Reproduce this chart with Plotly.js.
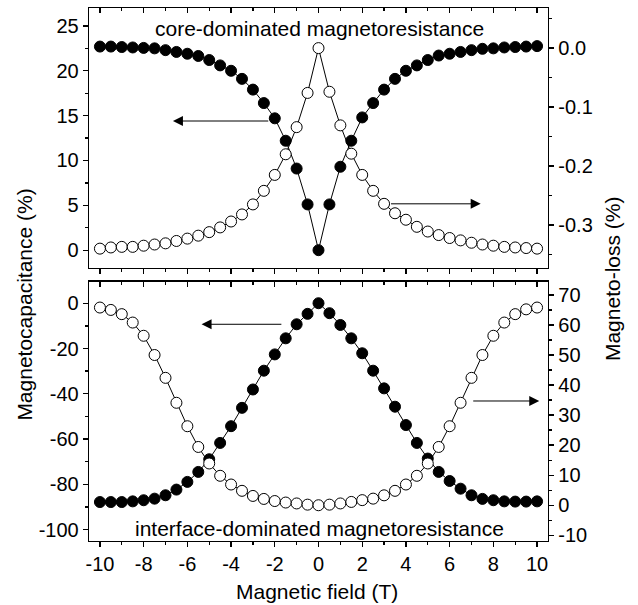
<!DOCTYPE html>
<html>
<head>
<meta charset="utf-8">
<script src="https://cdn.plot.ly/plotly-3.0.1.min.js"></script>
<style>html,body{margin:0;padding:0;background:#fff;}#chart{width:638px;height:605px;}</style>
</head>
<body>
<div id="chart"></div>
<script>
// Magnetic field (T)
const field = [-10,-9.5,-9,-8.5,-8,-7.5,-7,-6.5,-6,-5.5,-5,-4.5,-4,-3.5,-3,-2.5,-2,-1.5,-1,-0.5,0,
               0.5,1,1.5,2,2.5,3,3.5,4,4.5,5,5.5,6,6.5,7,7.5,8,8.5,9,9.5,10];

// Top panel: core-dominated magnetoresistance
const coreCapacitance = [22.7,22.7,22.65,22.6,22.55,22.5,22.3,22.1,21.9,21.65,21.2,20.6,20.0,19.1,17.9,16.4,14.7,12.2,9.1,5.1,0.0,
                         5.1,9.3,12.2,14.8,16.4,17.9,19.1,20.0,20.6,21.2,21.7,21.9,22.1,22.3,22.45,22.5,22.6,22.65,22.7,22.75];
const coreLoss = [-0.340,-0.338,-0.337,-0.337,-0.335,-0.333,-0.331,-0.327,-0.323,-0.318,-0.312,-0.304,-0.294,-0.282,-0.265,-0.242,-0.215,-0.180,-0.134,-0.076,0.0,
                  -0.074,-0.131,-0.179,-0.215,-0.242,-0.264,-0.280,-0.291,-0.303,-0.311,-0.317,-0.322,-0.326,-0.330,-0.333,-0.335,-0.337,-0.338,-0.339,-0.340];

// Bottom panel: interface-dominated magnetoresistance
const interfaceCapacitance = [-87.8,-87.8,-87.8,-87.5,-87.0,-86.3,-84.8,-82.3,-78.9,-74.5,-68.9,-61.7,-54.3,-46.2,-38.1,-29.8,-22.6,-15.5,-9.3,-4.7,0.0,
                              -4.4,-9.6,-15.5,-22.1,-29.8,-37.6,-45.7,-53.8,-61.7,-68.6,-74.5,-78.5,-81.9,-84.8,-86.4,-87.0,-87.5,-87.6,-87.6,-87.5];
const interfaceLoss = [65.8,65.0,63.6,60.8,56.4,50.0,42.4,34.1,26.3,19.4,13.9,9.8,6.9,4.8,3.1,2.1,1.4,0.9,0.6,0.2,0.0,
                       0.2,0.6,1.1,1.7,2.2,3.3,4.8,6.9,9.8,13.9,19.4,26.3,34.1,42.4,50.0,56.4,60.8,63.6,65.2,65.8];

// Tick values / labels
const xTickVals = [-10,-8,-6,-4,-2,0,2,4,6,8,10];
const xTickText = ['-10','-8','-6','-4','-2','0','2','4','6','8','10'];
const topLeftVals = [0,5,10,15,20,25];
const topLeftText = ['0','5','10','15','20','25'];
const topRightVals = [0,-0.1,-0.2,-0.3];
const topRightText = ['0.0','-0.1','-0.2','-0.3'];
const botLeftVals = [-100,-80,-60,-40,-20,0];
const botLeftText = ['-100','-80','-60','-40','-20','0'];
const botRightVals = [-10,0,10,20,30,40,50,60,70];
const botRightText = ['-10','0','10','20','30','40','50','60','70'];

const FONT = 'Liberation Sans, Arial, Helvetica, sans-serif';
const LW = 1.3;

const filled = {size: 11, color: '#000', line: {color: '#000', width: 1}};
const open = {size: 11, color: '#fff', line: {color: '#000', width: 1}};
const ln = {color: '#000', width: 1};

const traces = [
  {x: field, y: coreCapacitance, xaxis: 'x', yaxis: 'y', mode: 'lines+markers', marker: filled, line: ln, name: 'core MC'},
  {x: field, y: coreLoss, xaxis: 'x', yaxis: 'y2', mode: 'lines+markers', marker: open, line: ln, name: 'core ML'},
  {x: field, y: interfaceCapacitance, xaxis: 'x2', yaxis: 'y3', mode: 'lines+markers', marker: filled, line: ln, name: 'interface MC'},
  {x: field, y: interfaceLoss, xaxis: 'x2', yaxis: 'y4', mode: 'lines+markers', marker: open, line: ln, name: 'interface ML'},
  {x: [], y: [], xaxis: 'x3', yaxis: 'y', mode: 'markers', showlegend: false, hoverinfo: 'skip'},
  {x: [], y: [], xaxis: 'x4', yaxis: 'y3', mode: 'markers', showlegend: false, hoverinfo: 'skip'}
];

function xAxis(extra) {
  return Object.assign({
    range: [-10.5, 10.5], tickmode: 'array', tickvals: xTickVals, ticktext: xTickText,
    ticks: 'outside', ticklen: 5, tickwidth: LW, tickcolor: '#000',
    minor: {dtick: 1, tick0: 0, ticks: 'outside', ticklen: 3, tickwidth: LW, tickcolor: '#000'},
    showline: true, linewidth: LW, linecolor: '#000', mirror: true,
    showgrid: false, zeroline: false, tickfont: {family: FONT, size: 20, color: '#000'}
  }, extra);
}
function topTicks(extra) {
  return Object.assign({
    range: [-10.5, 10.5], tickmode: 'array', tickvals: xTickVals, side: 'top',
    ticks: 'inside', ticklen: 5, tickwidth: LW, tickcolor: '#000',
    minor: {dtick: 1, tick0: 0, ticks: 'inside', ticklen: 3, tickwidth: LW, tickcolor: '#000'},
    showline: false, showgrid: false, zeroline: false, showticklabels: false
  }, extra);
}
function yAxis(extra, minorDtick) {
  return Object.assign({
    tickmode: 'array', ticks: 'outside', ticklen: 5, tickwidth: LW, tickcolor: '#000',
    minor: {dtick: minorDtick, tick0: 0, ticks: 'outside', ticklen: 3, tickwidth: LW, tickcolor: '#000'},
    showline: true, linewidth: LW, linecolor: '#000',
    showgrid: false, zeroline: false, tickfont: {family: FONT, size: 20, color: '#000'}
  }, extra);
}

const arrowStyle = {text: '', showarrow: true, arrowhead: 2, arrowsize: 2, arrowwidth: 1, arrowcolor: '#000', standoff: 0, startstandoff: 0};

const layout = {
  width: 638, height: 605,
  margin: {l: 89.3, r: 90, t: 8.3, b: 64.3, pad: 0},
  paper_bgcolor: '#fff', plot_bgcolor: 'rgba(0,0,0,0)',
  showlegend: false,
  font: {family: FONT, size: 20, color: '#000'},
  xaxis: xAxis({anchor: 'y', showticklabels: false}),
  xaxis3: topTicks({overlaying: 'x', anchor: 'y'}),
  xaxis2: xAxis({anchor: 'y3'}),
  xaxis4: topTicks({overlaying: 'x2', anchor: 'y3'}),
  yaxis: yAxis({domain: [0.512, 1], range: [-2, 27], tickvals: topLeftVals, ticktext: topLeftText, anchor: 'x'}, 2.5),
  yaxis2: yAxis({overlaying: 'y', side: 'right', range: [-0.373, 0.068], tickvals: topRightVals, ticktext: topRightText, anchor: 'x'}, 0.05),
  yaxis3: yAxis({domain: [0, 0.4865], range: [-105, 9.5], tickvals: botLeftVals, ticktext: botLeftText, anchor: 'x2'}, 10),
  yaxis4: yAxis({overlaying: 'y3', side: 'right', range: [-11.9, 74.4], tickvals: botRightVals, ticktext: botRightText, anchor: 'x2'}, 5),
  annotations: [
    {text: 'core-dominated magnetoresistance', xref: 'x', yref: 'y', x: 0.05, y: 24.7, showarrow: false,
     xanchor: 'center', yanchor: 'middle', font: {family: FONT, size: 21, color: '#000'}},
    {text: 'interface-dominated magnetoresistance', xref: 'x2', yref: 'y3', x: 0.05, y: -99.4, showarrow: false,
     xanchor: 'center', yanchor: 'middle', font: {family: FONT, size: 21, color: '#000'}},
    {text: 'Magnetocapacitance (%)', xref: 'paper', yref: 'paper', x: -0.140, y: 0.443, showarrow: false,
     textangle: -90, xanchor: 'center', yanchor: 'middle', font: {family: FONT, size: 21, color: '#000'}},
    {text: 'Magneto-loss (%)', xref: 'paper', yref: 'paper', x: 1.1395, y: 0.4915, showarrow: false,
     textangle: -90, xanchor: 'center', yanchor: 'middle', font: {family: FONT, size: 21, color: '#000'}},
    {text: 'Magnetic field (T)', xref: 'paper', yref: 'paper', x: 0.497, y: -0.095, showarrow: false,
     xanchor: 'center', yanchor: 'middle', font: {family: FONT, size: 21, color: '#000'}},
    Object.assign({xref: 'x', yref: 'y', axref: 'x', ayref: 'y', x: -6.66, y: 14.4, ax: -2.23, ay: 14.4}, arrowStyle),
    Object.assign({xref: 'x', yref: 'y2', axref: 'x', ayref: 'y2', x: 7.42, y: -0.264, ax: 3.25, ay: -0.264}, arrowStyle),
    Object.assign({xref: 'x2', yref: 'y3', axref: 'x2', ayref: 'y3', x: -5.35, y: -9.3, ax: -1.63, ay: -9.3}, arrowStyle),
    Object.assign({xref: 'x2', yref: 'y4', axref: 'x2', ayref: 'y4', x: 10.1, y: 34.7, ax: 7.01, ay: 34.7}, arrowStyle)
  ]
};

Plotly.newPlot('chart', traces, layout, {staticPlot: true, displayModeBar: false});
</script>
</body>
</html>
